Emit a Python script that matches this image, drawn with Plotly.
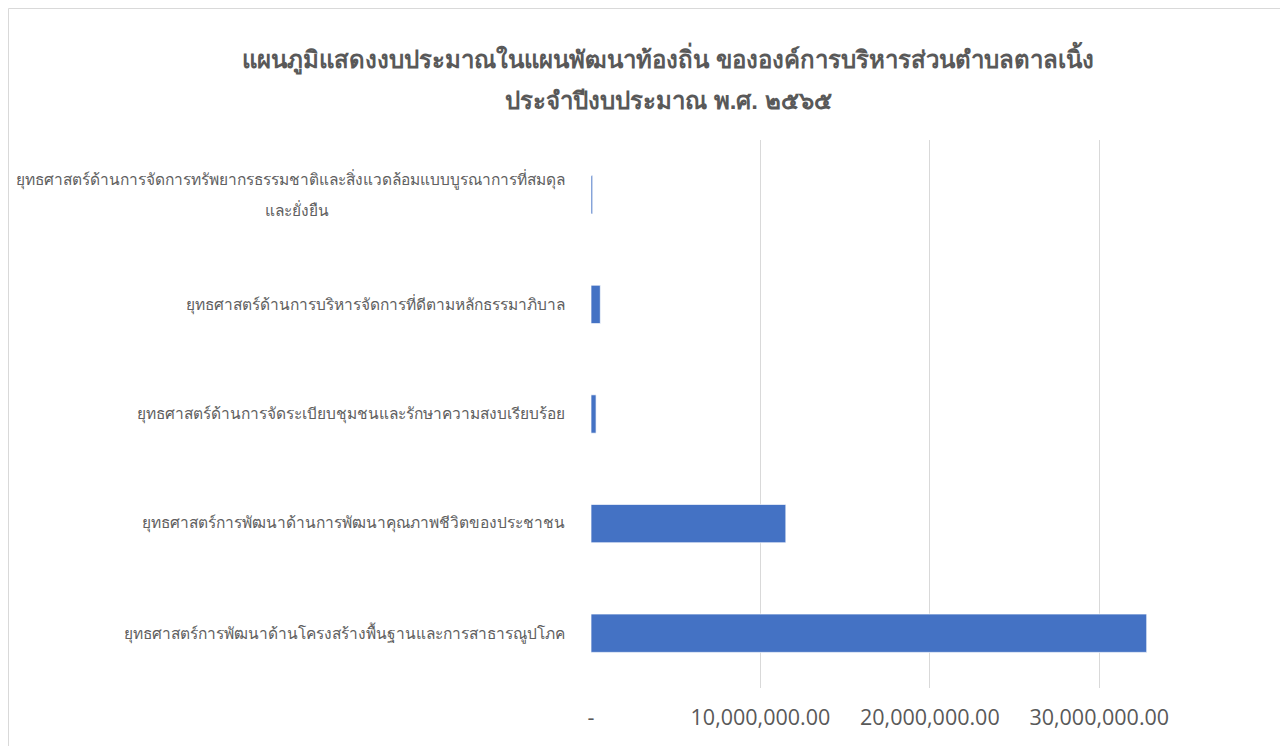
import plotly.graph_objects as go

categories = [
    "ยุทธศาสตร์ด้านการจัดการทรัพยากรธรรมชาติและสิ่งแวดล้อมแบบบูรณาการที่สมดุล<br>และยั่งยืน",
    "ยุทธศาสตร์ด้านการบริหารจัดการที่ดีตามหลักธรรมาภิบาล",
    "ยุทธศาสตร์ด้านการจัดระเบียบชุมชนและรักษาความสงบเรียบร้อย",
    "ยุทธศาสตร์การพัฒนาด้านการพัฒนาคุณภาพชีวิตของประชาชน",
    "ยุทธศาสตร์การพัฒนาด้านโครงสร้างพื้นฐานและการสาธารณูปโภค",
]
values = [100000, 550000, 300000, 11500000, 32800000]
tick_vals = [0, 10000000, 20000000, 30000000]
tick_text = ["-", "10,000,000.00", "20,000,000.00", "30,000,000.00"]
title_lines = [
    "แผนภูมิแสดงงบประมาณในแผนพัฒนาท้องถิ่น ขององค์การบริหารส่วนตำบลตาลเนิ้ง",
    "ประจำปีงบประมาณ พ.ศ. ๒๕๖๕",
]

OFF = 8  # page body margin
W, H = 1288, 746
L, R, T, B = 591 - OFF, 104 + OFF, 140 - OFF, 58 + OFF
plot_w = W - L - R
plot_h = H - T - B

def px_x(x):
    return (x - OFF - L) / plot_w

def px_y(y):
    return (H - B - (y - OFF)) / plot_h

fig = go.Figure()
fig.add_trace(go.Bar(
    y=list(range(len(categories))), x=values, orientation="h",
    marker=dict(color="#4472C4", line=dict(color="rgba(255,255,255,0.7)", width=1)),
    hoverinfo="x",
))

font_thai = "Tahoma, Leelawadee UI, sans-serif"
annotations = []
lab_size = 15.5
lab_color = "#606060"
for i, c in enumerate(categories):
    parts = c.split("<br>")
    if len(parts) == 1:
        annotations.append(dict(
            x=px_x(567), xref="paper", y=i, yref="y",
            text=c, showarrow=False, xanchor="right", yanchor="middle",
            font=dict(size=lab_size, color=lab_color, family=font_thai),
        ))
    else:
        annotations.append(dict(
            x=px_x(567), xref="paper", y=i, yref="y", yshift=15,
            text=parts[0], showarrow=False, xanchor="right", yanchor="middle",
            font=dict(size=lab_size, color=lab_color, family=font_thai),
        ))
        annotations.append(dict(
            x=px_x(297), xref="paper", y=i, yref="y", yshift=-15,
            text=parts[1], showarrow=False, xanchor="center", yanchor="middle",
            font=dict(size=lab_size, color=lab_color, family=font_thai),
        ))

for k, t in enumerate(title_lines):
    annotations.append(dict(
        x=px_x(668), xref="paper", y=px_y([58, 100][k]), yref="paper",
        text=f"<b>{t}</b>", showarrow=False, xanchor="center", yanchor="middle",
        font=dict(size=24, color="#595959", family=font_thai),
    ))

fig.update_layout(
    width=W, height=H,
    margin=dict(l=L, r=R, t=T, b=B),
    paper_bgcolor="white", plot_bgcolor="white",
    showlegend=False,
    bargap=0.65,
    annotations=annotations,
    xaxis=dict(
        range=[0, 35000000], tickvals=tick_vals, ticktext=tick_text,
        showgrid=True, gridcolor="#d9d9d9", gridwidth=1.3,
        zeroline=False, showline=False,
        tickfont=dict(size=21.5, color="#595959", family="Open Sans, Liberation Sans, sans-serif"),
        ticklabelstandoff=14,
    ),
    yaxis=dict(
        autorange="reversed", showticklabels=False, showgrid=False,
        zeroline=False, showline=False,
    ),
    shapes=[dict(
        type="rect", xref="paper", yref="paper",
        x0=(0.5 - L) / plot_w, x1=(1273 - L) / plot_w,
        y0=(H - B - 780) / plot_h, y1=(H - B - 0.5) / plot_h,
        line=dict(color="#d9d9d9", width=1), fillcolor="rgba(0,0,0,0)", layer="below",
    )],
)

fig.write_html("out.html")
